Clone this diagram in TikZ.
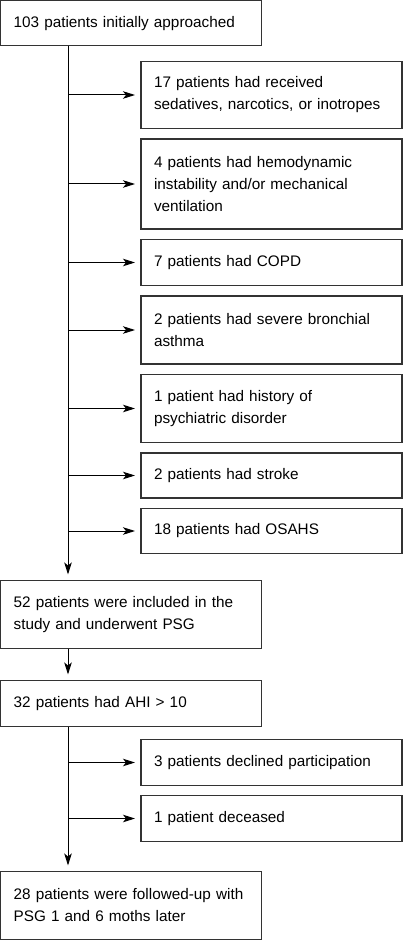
\documentclass[tikz,border=0pt]{standalone}
\usepackage{fontspec}
\setmainfont{Liberation Sans}
\usetikzlibrary{arrows.meta,positioning}

\tikzset{
  box/.style={draw=black!80, line width=1.3pt, anchor=north west, align=left,
    inner xsep=13pt, inner ysep=0pt, outer sep=0pt, text width=235pt,
    font=\fontsize{15.3}{22}\selectfont},
  arr/.style={-{Stealth[length=12pt,width=7.5pt,inset=3pt]}, line width=1pt, shorten >=6pt}
}

\begin{document}
\begin{tikzpicture}[x=1pt, y=-1pt, node distance = 10.5pt]
\useasboundingbox (0,0) rectangle (403,941);
\coordinate (t) at (68,0);

\node[box, minimum height=45pt] (p_0) at (0.7,0.7) {103 patients initially approached};

\node[box, minimum height=67pt] (e_1) at (141,61.5) {17 patients had received\\sedatives, narcotics, or inotropes};
\node[box, minimum height=90pt] (e_2) [below = of e_1] {4 patients had hemodynamic\\instability and/or mechanical\\ventilation};
\node[box, minimum height=46pt] (e_3) [below = of e_2] {7 patients had COPD};
\node[box, minimum height=68pt] (e_4) [below = of e_3] {2 patients had severe bronchial\\asthma};
\node[box, minimum height=68pt] (e_5) [below = of e_4] {1 patient had history of\\psychiatric disorder};
\node[box, minimum height=45pt] (e_6) [below = of e_5] {2 patients had stroke};
\node[box, minimum height=45pt] (e_7) [below = of e_6] {18 patients had OSAHS};

\node[box, minimum height=68pt] (p_1) at (0.7,580.5) {52 patients were included in the\\study and underwent PSG};
\node[box, minimum height=46pt] (p_2) [below = 32pt of p_1] {32 patients had AHI > 10};

\node[box, minimum height=46pt] (d_1) at (141,739.5) {3 patients declined participation};
\node[box, minimum height=46pt] (d_2) [below = 10pt of d_1] {1 patient deceased};

\node[box, minimum height=68pt] (p_3) at (0.7,871.5) {28 patients were followed-up with\\PSG 1 and 6 moths later};

% trunk and branches
\draw[arr] (p_0.south -| t) -- (p_1.north -| t);
\foreach \e in {e_1,e_2,e_3,e_4,e_5,e_6,e_7}
  \draw[arr] (\e.west -| t) -- (\e.west);
\draw[arr] (p_1.south -| t) -- (p_2.north -| t);
\draw[arr] (p_2.south -| t) -- (p_3.north -| t);
\draw[arr] (d_1.west -| t) -- (d_1.west);
\draw[arr] (d_2.west -| t) -- (d_2.west);
\end{tikzpicture}
\end{document}
